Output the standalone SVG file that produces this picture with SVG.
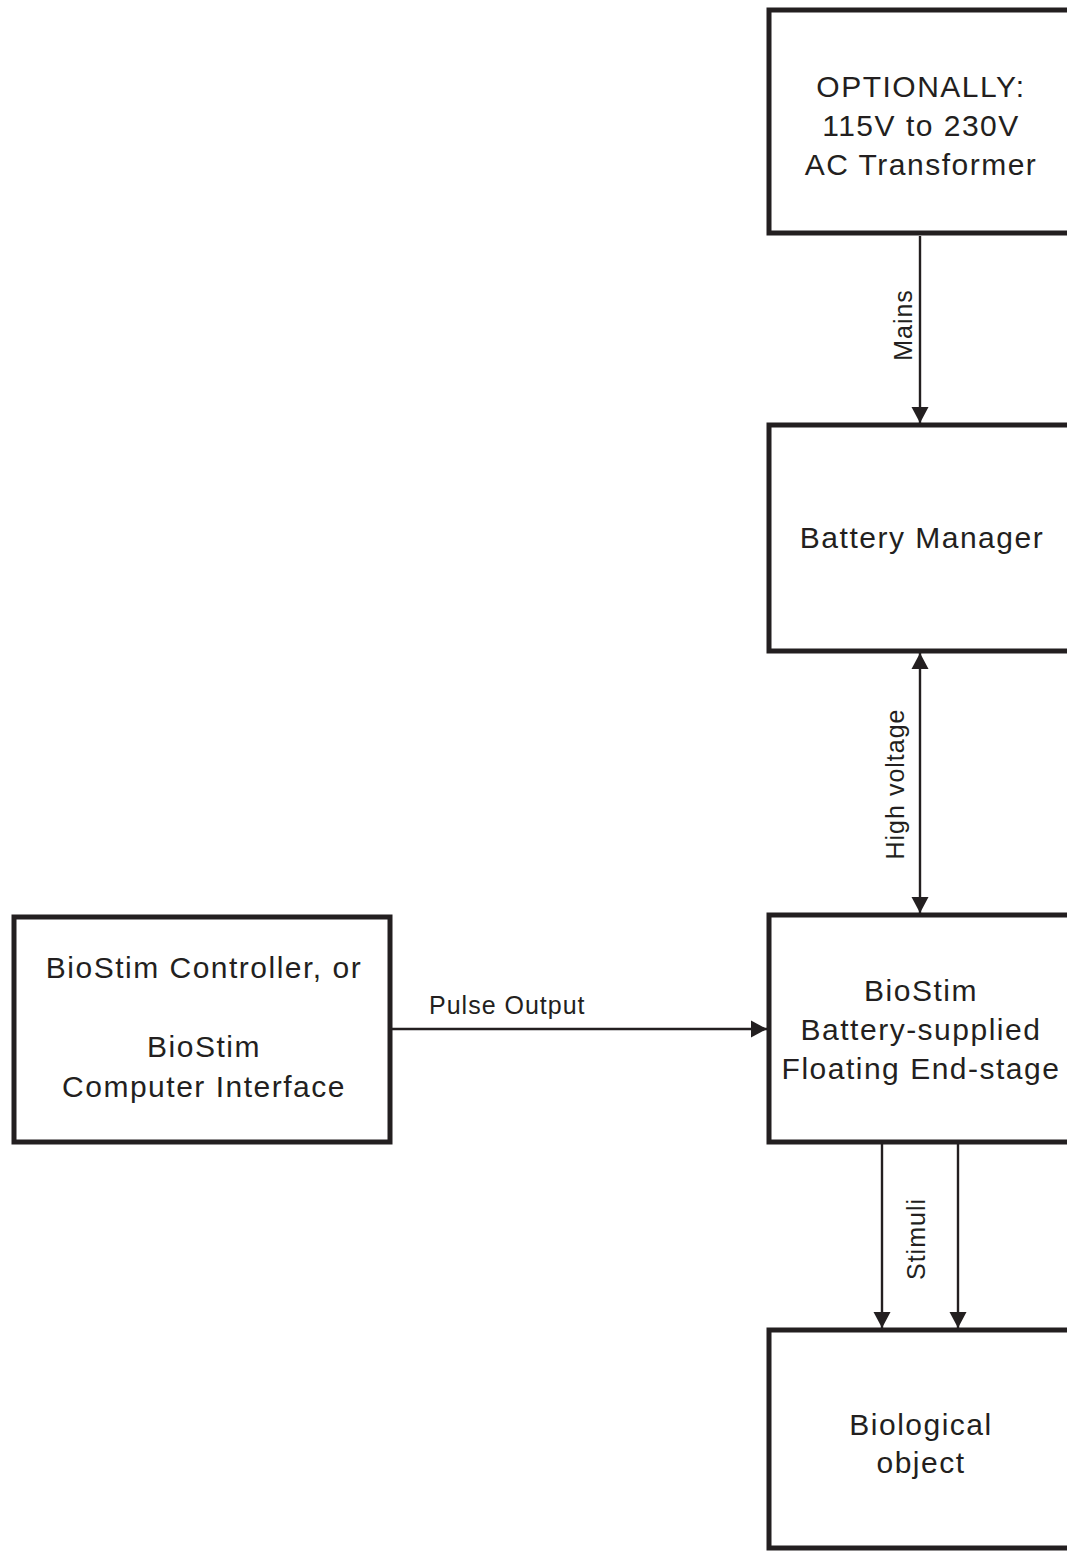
<svg xmlns="http://www.w3.org/2000/svg" width="1067" height="1558" viewBox="0 0 1067 1558">
<style>
.box{fill:#fff;stroke:#231f20;stroke-width:5}
.t{font-family:"Liberation Sans",Arial,sans-serif;font-size:30px;letter-spacing:1.5px;fill:#231f20;text-anchor:middle}
.l{font-family:"Liberation Sans",Arial,sans-serif;font-size:25px;letter-spacing:1px;fill:#231f20}
.c{stroke:#231f20;stroke-width:2.4;fill:none}
</style>
<defs>
<marker id="ah" markerUnits="userSpaceOnUse" markerWidth="16" markerHeight="18" refX="16" refY="8.5" orient="auto-start-reverse" viewBox="0 0 16 17">
<path d="M0,0 L16,8.5 L0,17 z" fill="#231f20"/>
</marker>
</defs>
<rect width="1067" height="1558" fill="#fff"/>
<g id="transformer">
<rect class="box" x="769" y="10" width="310" height="223"/>
<text class="t" x="921" y="97">OPTIONALLY:</text>
<text class="t" x="921" y="136">115V to 230V</text>
<text class="t" x="921" y="175">AC Transformer</text>
</g>
<g id="battery-manager">
<rect class="box" x="769" y="425" width="310" height="226"/>
<text class="t" x="922" y="548">Battery Manager</text>
</g>
<g id="end-stage">
<rect class="box" x="769" y="915" width="310" height="227"/>
<text class="t" x="921" y="1001">BioStim</text>
<text class="t" x="921" y="1040">Battery-supplied</text>
<text class="t" x="921" y="1079">Floating End-stage</text>
</g>
<g id="controller">
<rect class="box" x="14" y="917" width="376" height="225"/>
<text class="t" x="204" y="978">BioStim Controller, or</text>
<text class="t" x="204" y="1057">BioStim</text>
<text class="t" x="204" y="1097">Computer Interface</text>
</g>
<g id="biological-object">
<rect class="box" x="769" y="1330" width="310" height="218"/>
<text class="t" x="921" y="1435">Biological</text>
<text class="t" x="921" y="1473">object</text>
</g>
<g id="connectors">
<line class="c" x1="920" y1="236" x2="920" y2="423" marker-end="url(#ah)"/>
<text class="l" transform="translate(912,325) rotate(-90)" text-anchor="middle">Mains</text>
<line class="c" x1="920" y1="653" x2="920" y2="913" marker-start="url(#ah)" marker-end="url(#ah)"/>
<text class="l" transform="translate(904,784) rotate(-90)" text-anchor="middle">High voltage</text>
<line class="c" x1="392" y1="1029" x2="767" y2="1029" marker-end="url(#ah)"/>
<text class="l" x="429" y="1014">Pulse Output</text>
<line class="c" x1="882" y1="1144" x2="882" y2="1328" marker-end="url(#ah)"/>
<line class="c" x1="958" y1="1144" x2="958" y2="1328" marker-end="url(#ah)"/>
<text class="l" transform="translate(925,1239) rotate(-90)" text-anchor="middle">Stimuli</text>
</g>
</svg>
